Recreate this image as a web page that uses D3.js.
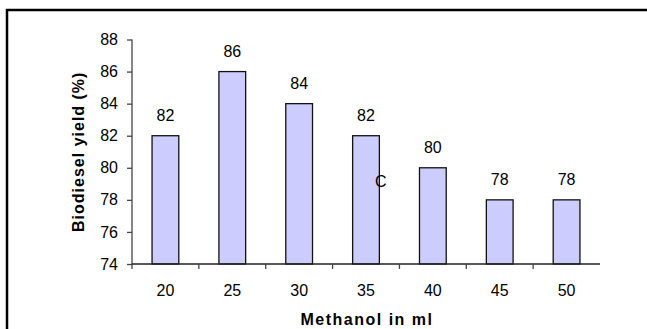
<!DOCTYPE html>
<html>
<head>
<meta charset="utf-8">
<script src="https://cdn.jsdelivr.net/npm/d3@7"></script>
<style>
  body { margin: 0; background: #fff; }
  text { font-family: "Liberation Sans", Arial, sans-serif; fill: #000; }
</style>
</head>
<body>
<div id="chart"></div>
<script>
const methanol = ["20", "25", "30", "35", "40", "45", "50"];
const yieldPct = [82, 86, 84, 82, 80, 78, 78];
const yTicks = [74, 76, 78, 80, 82, 84, 86, 88];

const dim = {width: 647, height: 329, left: 132, right: 600, top: 39.5, bottom: 264};

const svg = d3.select("#chart").append("svg")
  .attr("width", dim.width)
  .attr("height", dim.height);

// outer frame (top and left edges only visible)
svg.append("path")
  .attr("d", `M7,329 V10 H647`)
  .attr("fill", "none")
  .attr("stroke", "#000")
  .attr("stroke-width", 2.5);

const x = d3.scaleBand(methanol, [dim.left, dim.right])
  .paddingInner(0.6).paddingOuter(0.3);
const y = d3.scaleLinear([74, 88], [dim.bottom, dim.top]);

// bars
svg.append("g").selectAll("rect")
  .data(yieldPct)
  .join("rect")
    .attr("x", (d, i) => x(methanol[i]))
    .attr("y", d => y(d))
    .attr("width", x.bandwidth())
    .attr("height", d => y(74) - y(d))
    .attr("fill", "#ccccff")
    .attr("stroke", "#111")
    .attr("stroke-width", 1.3);

// value labels
svg.append("g").selectAll("text")
  .data(yieldPct)
  .join("text")
    .attr("x", (d, i) => x(methanol[i]) + x.bandwidth() / 2)
    .attr("y", d => y(d) - 15)
    .attr("text-anchor", "middle")
    .attr("font-size", 16)
    .text(d => d);

// y axis
const yAxis = svg.append("g")
  .attr("transform", `translate(${dim.left},0)`)
  .call(d3.axisLeft(y).tickValues(yTicks).tickSize(5).tickPadding(9));
yAxis.select(".domain").attr("d", `M0,${dim.top}V${dim.bottom + 5}`);
yAxis.selectAll("path, line").attr("stroke", "#444").attr("stroke-width", 1.3);
yAxis.selectAll("text").attr("font-size", 16).attr("font-family", null);

// x axis: ticks at category boundaries
const xAxis = svg.append("g");
xAxis.append("line")
  .attr("x1", dim.left).attr("x2", dim.right)
  .attr("y1", dim.bottom).attr("y2", dim.bottom)
  .attr("stroke", "#222").attr("stroke-width", 1.3);
xAxis.selectAll("line.tick")
  .data(methanol.slice(1))
  .join("line")
    .attr("class", "tick")
    .attr("x1", d => x(d) - x.step() * x.paddingInner() / 2)
    .attr("x2", d => x(d) - x.step() * x.paddingInner() / 2)
    .attr("y1", dim.bottom).attr("y2", dim.bottom + 5)
    .attr("stroke", "#444").attr("stroke-width", 1.3);
xAxis.selectAll("text")
  .data(methanol)
  .join("text")
    .attr("x", d => x(d) + x.bandwidth() / 2)
    .attr("y", 296)
    .attr("text-anchor", "middle")
    .attr("font-size", 16)
    .text(d => d);

// axis titles
svg.append("text")
  .attr("x", 367)
  .attr("y", 325)
  .attr("text-anchor", "middle")
  .attr("font-size", 16)
  .attr("font-weight", "bold")
  .attr("letter-spacing", 1.5)
  .text("Methanol in ml");

svg.append("text")
  .attr("transform", `translate(84,${(dim.top + dim.bottom) / 2}) rotate(-90)`)
  .attr("text-anchor", "middle")
  .attr("font-size", 16)
  .attr("font-weight", "bold")
  .attr("letter-spacing", 1)
  .text("Biodiesel yield (%)");

// stray label in the original figure
svg.append("text")
  .attr("x", 375)
  .attr("y", 187)
  .attr("font-size", 16)
  .text("C");
</script>
</body>
</html>
